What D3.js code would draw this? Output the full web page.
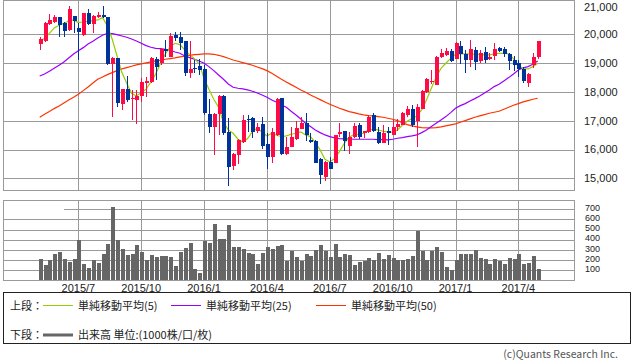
<!DOCTYPE html>
<html>
<head>
<meta charset="utf-8">
<script src="https://cdn.jsdelivr.net/npm/d3@7"></script>
<style>
  html, body { margin: 0; padding: 0; background: #fff; }
  svg { display: block; font-family: "Noto Sans CJK JP", "Noto Sans", sans-serif; }
  .num { font-family: "Liberation Sans", "DejaVu Sans", sans-serif; }
</style>
</head>
<body>
<div id="chart"></div>
<script>
// weekly candles (index 0 = first week shown)
const opens = [19676,19769,20359,20428,20590,20382,20151,20637,20220,19966,20729,20359,20590,20683,20590,18971,19179,17582,18091,17756,
  17721,17860,18323,18346,19133,18994,19480,19225,19989,19896,19757,18670,18820,18901,18809,17235,16772,17235,17860,16610,
  15430,15800,16263,17073,17096,16633,16888,16194,15754,16494,17790,15846,16101,16356,16726,16911,16332,16286,15685,15060,
  15569,15546,16541,16633,16124,16425,16842,16564,16610,17189,16610,16240,16633,16518,16772,16865,17189,17397,17004,17420,
  17999,18346,18253,19202,19271,19410,19156,19595,19318,19109,19457,19086,19387,19156,19248,19526,19503,19318,19109,18994,
  18809,18323,18924,19225];
const highs = [19919,20440,20706,20683,20614,20428,20995,20650,20382,20752,20880,20660,20787,20995,20614,19202,19190,18114,18554,18068,
  18068,18485,18508,19202,19225,19526,19804,20035,20081,20081,19780,19780,19109,19156,18936,17767,17258,17906,17906,17085,
  15870,16356,17189,17212,17142,16911,17142,16564,16749,17790,17800,16425,16796,17004,17142,17258,16564,16332,15700,15615,
  15754,16518,16911,16657,16610,16911,16934,16657,17189,17258,16796,16842,16772,17027,17050,17304,17513,17536,17582,18068,
  18485,18762,19240,19503,19526,19480,19734,19757,19457,19804,19549,19457,19572,19341,19711,19572,19572,19341,19248,19109,
  18878,18670,19364,19780];
const lows = [19468,19734,20336,20382,19896,19896,20128,20058,19109,19942,20313,20058,20556,20556,18924,17142,17490,17374,17663,17027,
  16888,17652,17837,18323,18415,18947,19225,19202,19757,19457,18554,18485,18670,18577,17200,16564,15800,16518,16518,14748,
  15291,15500,16240,16610,16402,16587,16032,15314,15523,16471,15823,15823,16078,16332,16703,16286,16217,15523,14805,14921,
  15314,15523,16448,15939,15846,16402,16379,16402,16587,16610,16194,16217,16147,16494,16633,16842,17142,16796,16101,17397,
  17976,18276,18230,19179,19248,19040,19133,18971,18647,18878,18762,18994,18994,19109,19109,19387,19225,18762,18716,18508,
  18300,18161,18832,19156];
const closes = [19850,20405,20498,20614,20336,20128,20880,20475,20081,20729,20359,20637,20683,20590,18971,19179,17628,18091,17721,17790,
  17871,18346,18392,19179,18878,19503,19433,19942,19873,19688,18670,18809,18785,18762,17258,16796,17235,17860,16564,15407,
  15846,16332,17027,17050,16610,16796,16124,15754,16610,17767,15846,16101,16425,16749,16911,16494,16263,15546,15106,15569,
  15338,16494,16610,16286,16425,16819,16448,16633,17142,16657,16240,16587,16564,16796,16888,17281,17420,16842,17467,18045,
  18438,18392,19225,19341,19433,19063,19688,19318,19109,19480,19040,19364,19109,19202,19503,19433,19318,19086,18947,18809,
  18369,18623,19225,19757];

// volume, unit 1000
const volumes = [210,151,197,260,280,210,181,210,398,161,122,197,171,260,359,724,398,309,250,260,
  349,280,201,250,230,240,240,230,141,280,319,368,112,72,388,368,556,408,408,546,
  329,329,309,270,260,161,270,329,309,339,349,191,289,230,191,260,240,299,349,289,
  230,359,230,260,250,151,181,191,220,201,270,210,250,220,201,201,210,240,487,289,
  201,289,329,280,132,102,201,260,260,260,299,220,210,161,210,191,161,220,210,260,
  161,171,240,112];

// moving averages as drawn
const ma5 = [19780,19850,20035,20220,20313,20382,20463,20498,20405,20428,20452,20475,20498,20579,20290,19827,19248,18670,18300,17952,
  17860,17976,18091,18346,18623,18994,19318,19572,19688,19642,19457,19294,19156,18971,18461,18091,17744,17466,16934,16680,
  16564,16356,16263,16379,16622,16749,16610,16471,16564,16494,16448,16471,16529,16564,16610,16506,16448,16240,15986,15662,
  15569,15685,15928,16217,16425,16518,16529,16564,16680,16703,16680,16633,16610,16599,16680,16842,16981,17073,17166,17374,
  17721,18126,18508,18820,18994,19166,19306,19318,19318,19318,19306,19306,19283,19283,19318,19341,19341,19318,19156,18924,
  18809,18797,18878,18994];
const ma25 = [18554,18623,18716,18820,18924,19040,19179,19318,19433,19537,19665,19757,19873,19966,20035,20023,19989,19942,19896,19838,
  19769,19688,19607,19549,19514,19503,19480,19445,19387,19341,19248,19190,19133,19075,18994,18878,18739,18589,18438,18276,
  18161,18126,18103,18068,18022,17964,17895,17814,17721,17640,17547,17467,17328,17200,17061,16911,16796,16680,16587,16506,
  16448,16402,16379,16367,16367,16356,16356,16356,16356,16356,16344,16344,16332,16356,16391,16414,16448,16471,16506,16587,
  16680,16796,16911,17027,17142,17281,17432,17524,17594,17686,17767,17860,17964,18068,18184,18265,18381,18496,18623,18762,
  18832,18878,18959,19075];
const ma50 = [17119,17224,17316,17420,17513,17617,17721,17814,17918,18045,18172,18311,18438,18519,18600,18670,18739,18797,18843,18890,
  18936,18971,19005,19040,19075,19098,19133,19156,19179,19214,19237,19271,19294,19306,19318,19318,19306,19271,19225,19167,
  19109,19063,19017,18971,18924,18866,18809,18739,18647,18542,18438,18346,18253,18161,18068,17987,17895,17814,17733,17652,
  17571,17501,17432,17374,17316,17281,17235,17200,17177,17166,17142,17119,17085,17050,17004,16934,16865,16819,16784,16761,
  16749,16749,16761,16784,16819,16853,16888,16946,17004,17061,17119,17166,17212,17258,17293,17328,17397,17467,17536,17594,
  17652,17698,17744,17779];

const priceTicks = [15000, 16000, 17000, 18000, 19000, 20000, 21000];
const volTicks = [100, 200, 300, 400, 500, 600, 700];
const monthTickIdx = [8, 21, 34, 47, 60, 73, 86, 99];
const monthTickLabels = ['2015/7', '2015/10', '2016/1', '2016/4', '2016/7', '2016/10', '2017/1', '2017/4'];

const W = 638, H = 362;
const left = 3.5, right = 574.5;
const pTop = 0.5, pBot = 190.5, vTop = 200.5, vBot = 280.5;

const UP = '#ff0a45', DOWN = '#003399', GRID = '#9a9a9a';

const svg = d3.select('#chart').append('svg')
  .attr('width', W).attr('height', H)
  .attr('viewBox', [0, 0, W, H]);

const x = d3.scaleLinear().domain([0, 103]).range([39.7, 537.7]);
const y = d3.scaleLinear().domain([15000, 20000]).range([178.3, 34.3]);
const yv = d3.scaleLinear().domain([0, 700]).range([280.3, 209.3]);

const idx = d3.range(closes.length);

// --- price panel grid
const grid = svg.append('g').attr('stroke', GRID).attr('stroke-width', 1).attr('shape-rendering', 'crispEdges');
grid.selectAll('.hp').data(priceTicks.filter(d => d < 21000)).join('line')
  .attr('x1', left).attr('x2', right)
  .attr('y1', d => Math.round(y(d)) + 0.5).attr('y2', d => Math.round(y(d)) + 0.5);
grid.selectAll('.vp').data(monthTickIdx).join('line')
  .attr('x1', d => Math.round(x(d)) + 0.5).attr('x2', d => Math.round(x(d)) + 0.5)
  .attr('y1', pTop).attr('y2', pBot);
grid.append('rect').attr('x', left).attr('y', pTop).attr('width', right - left).attr('height', pBot - pTop)
  .attr('fill', 'none');

// --- volume panel grid
grid.selectAll('.hv').data(volTicks).join('line')
  .attr('x1', left).attr('x2', right)
  .attr('y1', d => Math.round(yv(d)) + 0.5).attr('y2', d => Math.round(yv(d)) + 0.5);
grid.selectAll('.vv').data(monthTickIdx).join('line')
  .attr('x1', d => Math.round(x(d)) + 0.5).attr('x2', d => Math.round(x(d)) + 0.5)
  .attr('y1', vTop).attr('y2', vBot);
grid.append('rect').attr('x', left).attr('y', vTop).attr('width', right - left).attr('height', vBot - vTop)
  .attr('fill', 'none');

// --- moving averages (drawn under the candles)
const maLine = arr => d3.line().x((d, i) => x(i)).y(d => y(d))(arr);
[[ma50, '#ff3300'], [ma25, '#9900ff'], [ma5, '#99cc00']].forEach(([arr, c]) => {
  svg.append('path').attr('d', maLine(arr)).attr('fill', 'none')
    .attr('stroke', c).attr('stroke-width', 1.2);
});

// --- candles
const candles = svg.append('g').attr('shape-rendering', 'crispEdges');
const col = i => closes[i] >= opens[i] ? UP : DOWN;
candles.selectAll('line').data(idx).join('line')
  .attr('x1', i => Math.round(x(i)) + 0.5).attr('x2', i => Math.round(x(i)) + 0.5)
  .attr('y1', i => y(highs[i])).attr('y2', i => y(lows[i]))
  .attr('stroke', col).attr('stroke-width', 1);
candles.selectAll('rect').data(idx).join('rect')
  .attr('x', i => Math.round(x(i)) - 1.5).attr('width', 4)
  .attr('y', i => y(Math.max(opens[i], closes[i])))
  .attr('height', i => Math.max(1, Math.abs(y(opens[i]) - y(closes[i]))))
  .attr('fill', col);

// --- volume bars
svg.append('g').attr('shape-rendering', 'crispEdges')
  .selectAll('rect').data(idx).join('rect')
  .attr('x', i => Math.round(x(i)) - 1.5).attr('width', 4)
  .attr('y', i => yv(volumes[i])).attr('height', i => yv(0) - yv(volumes[i]))
  .attr('fill', '#666');

// --- axis labels
const txt = svg.append('g').attr('font-size', 11).attr('fill', '#222');
txt.selectAll('.pl').data(priceTicks).join('text')
  .attr('class', 'num')
  .attr('x', 584).attr('y', d => Math.max(7, y(d))).attr('dy', '0.35em')
  .text(d => d3.format(',')(d));
txt.selectAll('.vl').data(volTicks).join('text')
  .attr('class', 'num')
  .attr('x', 585).attr('y', d => yv(d) - 1.5).attr('dy', '0.35em')
  .attr('font-size', 9)
  .text(d => d);
txt.selectAll('.ml').data(monthTickIdx).join('text')
  .attr('class', 'num')
  .attr('x', d => x(d)).attr('y', 288).attr('dy', '0.35em').attr('text-anchor', 'middle')
  .text((d, i) => monthTickLabels[i]);

// unit label in the volume panel
svg.append('rect').attr('x', 4).attr('y', 202).attr('width', 60).attr('height', 14).attr('fill', '#fff');
txt.append('text').attr('x', 5).attr('y', 209).attr('dy', '0.35em').text('単位: 1000');

// --- legend
const lg = svg.append('g');
lg.append('rect').attr('x', 3.5).attr('y', 292.5).attr('width', 627).attr('height', 51)
  .attr('fill', 'none').attr('stroke', '#222').attr('stroke-width', 1);
const lt = lg.append('g').attr('font-size', 11).attr('fill', '#222');
lt.append('text').attr('x', 10).attr('y', 306).attr('dy', '0.35em').text('上段：');
const items = [['単純移動平均(5)', '#99cc00', 43], ['単純移動平均(25)', '#9900ff', 171], ['単純移動平均(50)', '#ff3300', 316]];
items.forEach(([t, c, x0]) => {
  lg.append('line').attr('x1', x0).attr('x2', x0 + 30).attr('y1', 305.5).attr('y2', 305.5)
    .attr('stroke', c).attr('stroke-width', 1);
  lt.append('text').attr('x', x0 + 35).attr('y', 306).attr('dy', '0.35em').text(t);
});
lt.append('text').attr('x', 10).attr('y', 335).attr('dy', '0.35em').text('下段：');
lg.append('line').attr('x1', 43).attr('x2', 73).attr('y1', 335).attr('y2', 335)
  .attr('stroke', '#666').attr('stroke-width', 3);
lt.append('text').attr('x', 78).attr('y', 335).attr('dy', '0.35em').text('出来高 単位:(1000株/口/枚)');

svg.append('text').attr('x', 618).attr('y', 354).attr('dy', '0.35em').attr('text-anchor', 'end')
  .attr('font-size', 10.5).attr('fill', '#555').text('(c)Quants Research Inc.');
</script>
</body>
</html>
